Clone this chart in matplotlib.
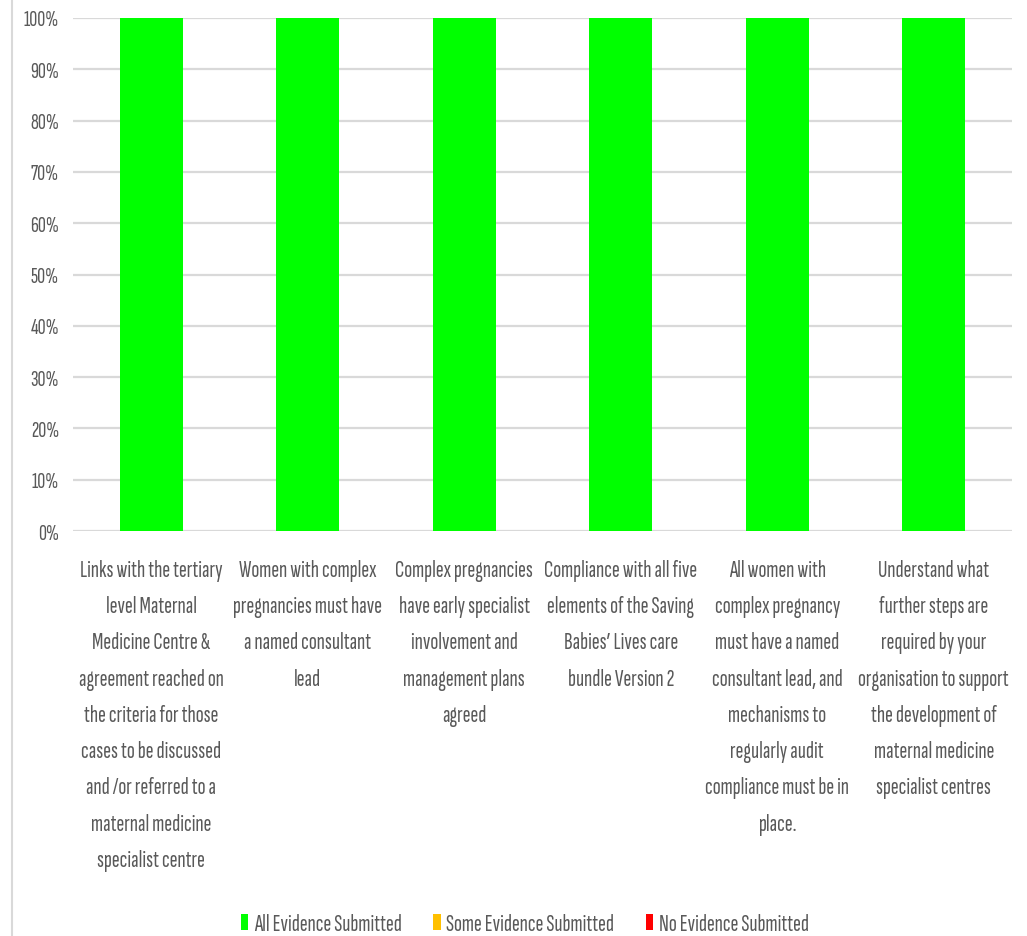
import matplotlib
matplotlib.use("Agg")
import matplotlib.pyplot as plt
from matplotlib.patches import Patch
from matplotlib.lines import Line2D

categories = [
    "Links with the tertiary\nlevel Maternal\nMedicine Centre &\nagreement reached on\nthe criteria for those\ncases to be discussed\nand /or referred to a\nmaternal medicine\nspecialist centre",
    "Women with complex\npregnancies must have\na named consultant\nlead",
    "Complex pregnancies\nhave early specialist\ninvolvement and\nmanagement plans\nagreed",
    "Compliance with all five\nelements of the Saving\nBabies\u2019 Lives care\nbundle Version 2",
    "All women with\ncomplex pregnancy\nmust have a named\nconsultant lead, and\nmechanisms to\nregularly audit\ncompliance must be in\nplace.",
    "Understand what\nfurther steps are\nrequired by your\norganisation to support\nthe development of\nmaternal medicine\nspecialist centres",
]
all_evidence = [100, 100, 100, 100, 100, 100]
some_evidence = [0, 0, 0, 0, 0, 0]
no_evidence = [0, 0, 0, 0, 0, 0]
series_names = ["All Evidence Submitted", "Some Evidence Submitted", "No Evidence Submitted"]
colors = ["#00FF00", "#FFC000", "#FF0000"]
text_color = "#595959"

plt.rcParams["font.family"] = ["Sofia Sans Extra Condensed", "DejaVu Sans"]

fig = plt.figure(figsize=(10.27, 9.37), dpi=100)
ax = fig.add_axes([73 / 1027, 1 - 532 / 937, (1012 - 73) / 1027, (532 - 19) / 937])

x = list(range(len(categories)))
bottom = [0] * len(x)
for vals, name, c in zip([all_evidence, some_evidence, no_evidence], series_names, colors):
    ax.bar(x, vals, width=0.4, bottom=bottom, color=c, label=name, zorder=3)
    bottom = [b + v for b, v in zip(bottom, vals)]

ax.set_xlim(-0.5, len(x) - 0.5)
ax.set_ylim(0, 100)
ax.set_yticks(range(0, 101, 10))
ax.set_yticklabels([f"{v}%" for v in range(0, 101, 10)])
ax.yaxis.grid(True, color="#D9D9D9", linewidth=1.6, zorder=0)
ax.set_axisbelow(True)
for s in ax.spines.values():
    s.set_visible(False)
ax.tick_params(axis="y", length=0, pad=10, labelsize=16, labelcolor=text_color)
ax.tick_params(axis="x", length=0, pad=20, labelsize=17, labelcolor=text_color)
ax.set_xticks(x)
ax.set_xticklabels(categories, linespacing=1.84)

handles = [Patch(facecolor=c, edgecolor="none") for c in colors]
fig.legend(handles, series_names, loc="center", bbox_to_anchor=(525 / 1027, 1 - 925 / 937),
           ncol=3, frameon=False, fontsize=17, labelcolor=text_color,
           handlelength=0.3, handleheight=0.64, handletextpad=0.25, columnspacing=1.35)

fig.add_artist(Line2D([12 / 1027, 12 / 1027], [0, 1], transform=fig.transFigure,
                      color="#D9D9D9", linewidth=1.5))

fig.savefig("out.png", dpi=100, facecolor="white")
